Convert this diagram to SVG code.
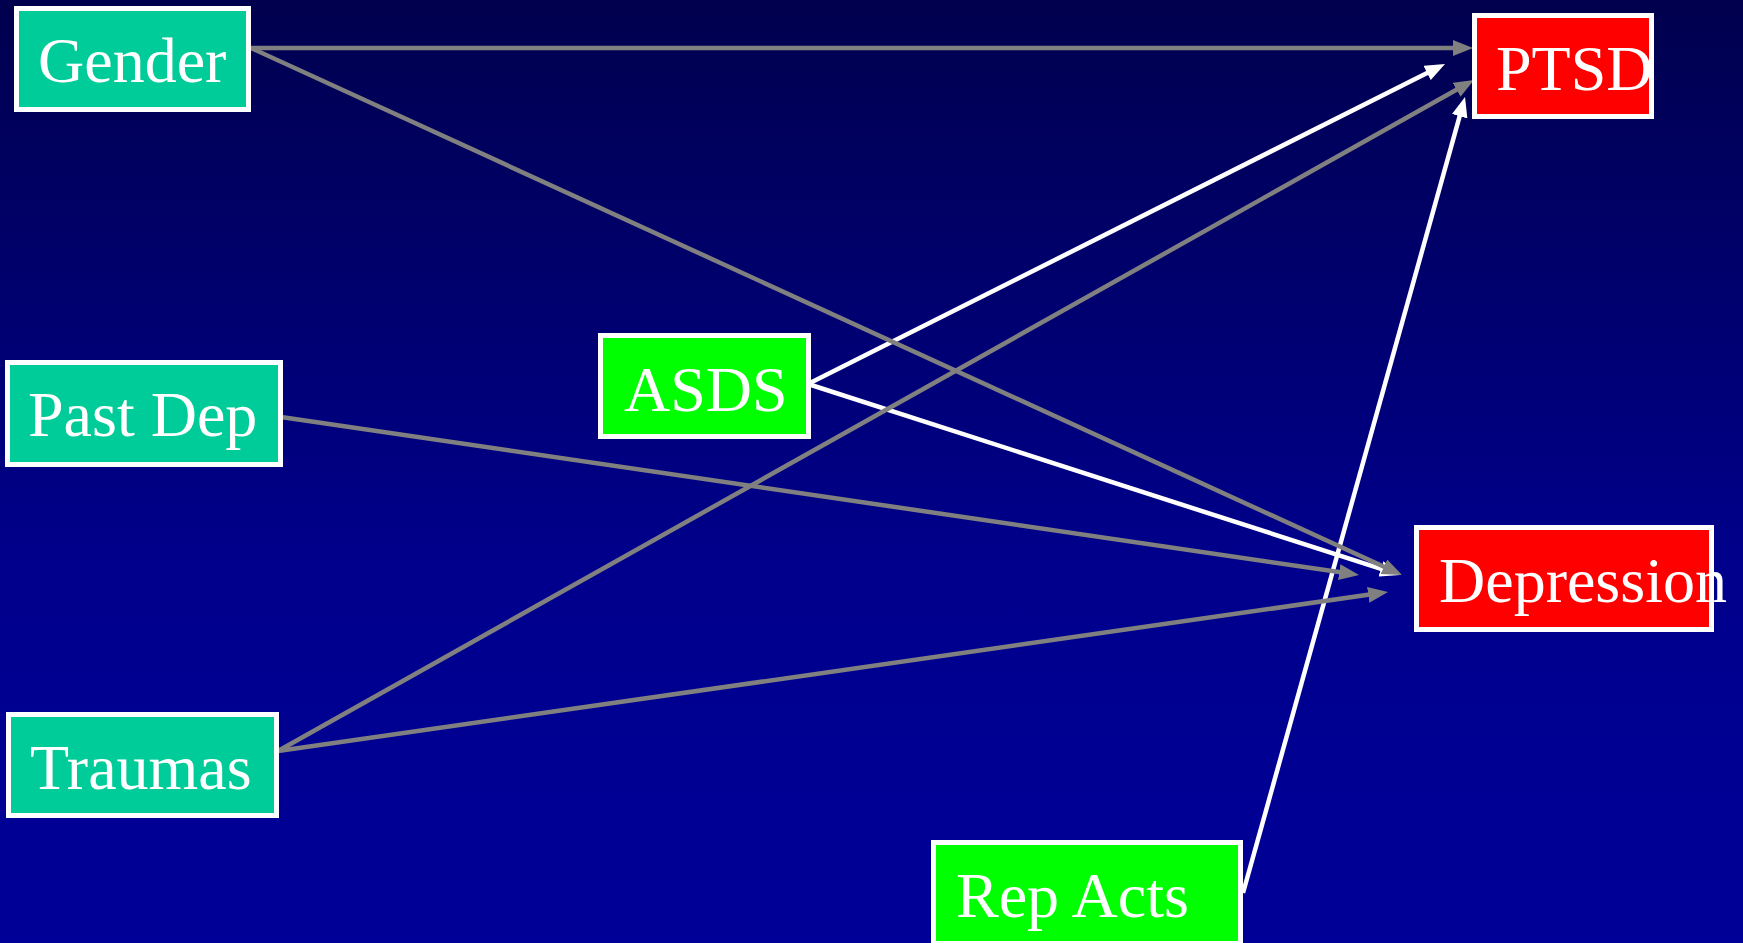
<svg xmlns="http://www.w3.org/2000/svg" width="1743" height="943" viewBox="0 0 1743 943">
  <defs>
    <linearGradient id="bg" x1="0" y1="0" x2="0" y2="1">
      <stop offset="0" stop-color="#00004E"/>
      <stop offset="0.6" stop-color="#00008C"/>
      <stop offset="1" stop-color="#000098"/>
    </linearGradient>
    <marker id="headGray" markerUnits="userSpaceOnUse" markerWidth="20" markerHeight="16" viewBox="0 0 20 16" refX="5" refY="8" orient="auto">
      <path d="M0,0 L20,8 L0,16 z" fill="#808080"/>
    </marker>
    <marker id="headWhite" markerUnits="userSpaceOnUse" markerWidth="20" markerHeight="16" viewBox="0 0 20 16" refX="5" refY="8" orient="auto">
      <path d="M0,0 L20,8 L0,16 z" fill="#FFFFFF"/>
    </marker>
    <style>
      .box { stroke: #FFFFFF; stroke-width: 5; }
      .pre { fill: #00CC99; }
      .mid { fill: #00FF00; }
      .out { fill: #FF0000; }
      .lbl { font-family: "Liberation Serif", "Times New Roman", serif; font-size: 64px; fill: #FFFFFF; }
      .g { stroke: #808080; stroke-width: 4.5; fill: none; marker-end: url(#headGray); }
      .w { stroke: #FFFFFF; stroke-width: 4.5; fill: none; marker-end: url(#headWhite); }
    </style>
  </defs>

  <rect x="0" y="0" width="1743" height="943" fill="url(#bg)"/>

  <!-- paths end 15px short of the tip; the marker carries the rest -->
  <g id="connectors">
    <line class="w" x1="808" y1="384" x2="1431.6" y2="70.7"/>
    <line class="w" x1="808" y1="384" x2="1385.7" y2="570.4"/>
    <line class="w" x1="1243" y1="893" x2="1461" y2="111.4"/>
    <line class="g" x1="251" y1="48" x2="1458" y2="48"/>
    <line class="g" x1="251" y1="48" x2="1388.4" y2="568.8"/>
    <line class="g" x1="281" y1="417" x2="1344.2" y2="572.8"/>
    <line class="g" x1="278" y1="751" x2="1373.2" y2="594.1"/>
    <line class="g" x1="278" y1="751" x2="1460.9" y2="87.3"/>
  </g>

  <g id="gender">
    <rect class="box pre" x="16.5" y="8.5" width="232" height="101"/>
    <text class="lbl" x="38" y="82">Gender</text>
  </g>
  <g id="past-dep">
    <rect class="box pre" x="7.5" y="362.5" width="273" height="102"/>
    <text class="lbl" x="28" y="436">Past Dep</text>
  </g>
  <g id="traumas">
    <rect class="box pre" x="8.5" y="714.5" width="268" height="101"/>
    <text class="lbl" x="30" y="789">Traumas</text>
  </g>
  <g id="asds">
    <rect class="box mid" x="600.5" y="335.5" width="208" height="101"/>
    <text class="lbl" x="624" y="411">ASDS</text>
  </g>
  <g id="rep-acts">
    <rect class="box mid" x="933.5" y="842.5" width="307" height="101"/>
    <text class="lbl" x="956" y="917">Rep Acts</text>
  </g>
  <g id="ptsd">
    <rect class="box out" x="1474.5" y="15.5" width="177" height="101"/>
    <text class="lbl" x="1496" y="90">PTSD</text>
  </g>
  <g id="depression">
    <rect class="box out" x="1416.5" y="527.5" width="295" height="102"/>
    <text class="lbl" x="1439" y="602">Depression</text>
  </g>
</svg>
